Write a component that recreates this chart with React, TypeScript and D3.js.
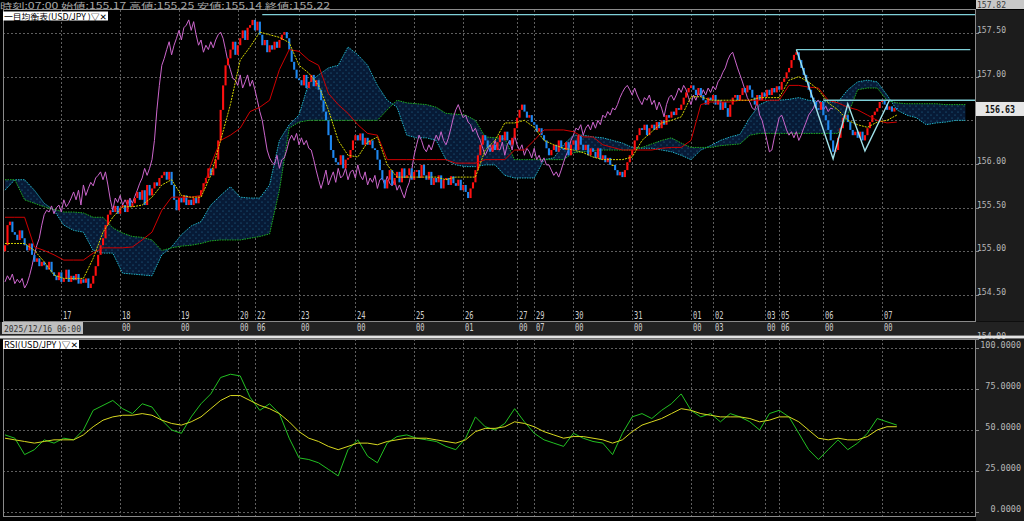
import React from 'react';
import * as d3 from 'd3';

const W = 1024;
const H = 521;
const BAR = 2.45; // px per hourly bar

// hourly closes USD/JPY 2025/12/16 -> 2026/01/07 07:00
const firstOpen = 155.0;
const closes = [
  155.07, 155.30, 155.34, 155.22, 155.19, 155.13, 155.24, 155.15, 155.07, 155.01, 155.09, 154.96,
  154.88, 154.92, 154.83, 154.88, 154.84, 154.79, 154.88, 154.76, 154.72, 154.67, 154.76, 154.65,
  154.69, 154.79, 154.65, 154.72, 154.67, 154.74, 154.63, 154.68, 154.64, 154.69, 154.58, 154.63,
  154.72, 154.83, 154.96, 155.07, 155.15, 155.30, 155.42, 155.47, 155.45, 155.52, 155.43, 155.50,
  155.53, 155.45, 155.59, 155.51, 155.55, 155.61, 155.68, 155.59, 155.70, 155.53, 155.76, 155.64,
  155.72, 155.79, 155.75, 155.84, 155.87, 155.91, 155.82, 155.91, 155.76, 155.59, 155.47, 155.61,
  155.56, 155.64, 155.53, 155.59, 155.53, 155.61, 155.55, 155.63, 155.70, 155.78, 155.84, 155.95,
  155.87, 155.95, 156.05, 156.27, 156.62, 156.90, 157.13, 157.21, 157.31, 157.40, 157.25, 157.36,
  157.44, 157.53, 157.42, 157.56, 157.59, 157.65, 157.53, 157.63, 157.48, 157.36, 157.42, 157.28,
  157.36, 157.31, 157.40, 157.33, 157.42, 157.48, 157.51, 157.44, 157.31, 157.17, 157.08, 156.98,
  156.96, 156.90, 157.02, 156.87, 156.94, 157.02, 156.89, 156.96, 156.85, 156.73, 156.60, 156.50,
  156.33, 156.16, 156.07, 156.02, 155.99, 156.10, 155.95, 156.05, 156.07, 156.16, 156.27, 156.33,
  156.27, 156.35, 156.22, 156.30, 156.22, 156.27, 156.18, 156.16, 156.05, 155.93, 155.82, 155.72,
  155.82, 155.93, 155.76, 155.84, 155.91, 155.79, 155.95, 155.84, 155.87, 155.95, 155.82, 155.91,
  155.93, 155.84, 155.99, 155.87, 155.82, 155.91, 155.76, 155.84, 155.79, 155.87, 155.72, 155.82,
  155.84, 155.76, 155.86, 155.78, 155.75, 155.82, 155.70, 155.76, 155.68, 155.61, 155.72, 155.79,
  155.93, 156.10, 156.22, 156.33, 156.27, 156.18, 156.14, 156.22, 156.16, 156.25, 156.33, 156.27,
  156.37, 156.27, 156.22, 156.30, 156.41, 156.53, 156.62, 156.68, 156.60, 156.53, 156.56, 156.48,
  156.45, 156.37, 156.41, 156.33, 156.27, 156.18, 156.10, 156.16, 156.22, 156.14, 156.27, 156.18,
  156.16, 156.25, 156.10, 156.22, 156.27, 156.16, 156.33, 156.22, 156.16, 156.22, 156.10, 156.18,
  156.14, 156.07, 156.18, 156.05, 156.10, 156.02, 156.07, 155.99, 155.99, 155.93, 155.87, 155.91,
  155.85, 155.93, 156.02, 156.10, 156.16, 156.27, 156.33, 156.41, 156.39, 156.45, 156.33, 156.41,
  156.45, 156.39, 156.48, 156.41, 156.50, 156.45, 156.56, 156.53, 156.60, 156.56, 156.64, 156.62,
  156.68, 156.76, 156.82, 156.87, 156.90, 156.85, 156.79, 156.87, 156.79, 156.73, 156.68, 156.76,
  156.73, 156.79, 156.68, 156.73, 156.62, 156.71, 156.64, 156.54, 156.68, 156.76, 156.79, 156.73,
  156.79, 156.87, 156.82, 156.90, 156.85, 156.76, 156.68, 156.79, 156.73, 156.82, 156.77, 156.85,
  156.79, 156.87, 156.82, 156.89, 156.85, 156.94, 156.98, 157.05, 157.10, 157.19, 157.25, 157.28,
  157.19, 157.10, 157.02, 156.94, 156.85, 156.76, 156.71, 156.64, 156.62, 156.71, 156.56, 156.50,
  156.39, 156.27, 156.14, 156.16, 156.30, 156.41, 156.53, 156.56, 156.48, 156.39, 156.33, 156.37,
  156.30, 156.37, 156.27, 156.33, 156.41, 156.48, 156.56, 156.60, 156.64, 156.71, 156.73, 156.68,
  156.62, 156.66, 156.60, 156.64, 156.63,
];

// ichimoku lines, one value every 4 bars
const tenkan = [
  155.09, 155.09, 155.09, 155.01, 154.88, 154.73, 154.69, 154.69, 154.69, 154.92,
  155.22, 155.39, 155.51, 155.51, 155.53, 155.62, 155.76, 155.82, 155.64, 155.62,
  155.62, 155.87, 156.27, 156.68, 157.19, 157.34, 157.51, 157.48, 157.45, 157.39,
  157.13, 157.04, 156.90, 156.62, 156.27, 156.10, 156.08, 156.25, 156.31, 155.99,
  155.85, 155.85, 155.85, 155.85, 155.85, 155.82, 155.85, 155.85, 155.85, 156.16,
  156.27, 156.47, 156.47, 156.50, 156.42, 156.27, 156.22, 156.18, 156.16, 156.13,
  156.08, 156.05, 156.05, 156.05, 156.08, 156.27, 156.37, 156.47, 156.50, 156.54,
  156.77, 156.77, 156.73, 156.73, 156.73, 156.73, 156.73, 156.76, 156.76, 156.76,
  156.96, 157.00, 156.94, 156.85, 156.70, 156.62, 156.50, 156.45, 156.42, 156.48,
  156.50, 156.56,
];
const kijun = [
  155.39, 155.39, 155.39, 155.05, 155.01, 154.96, 154.90, 154.90, 154.90, 154.98,
  155.04, 155.04, 155.04, 155.05, 155.13, 155.22, 155.47, 155.62, 155.62, 155.62,
  155.64, 155.99, 156.27, 156.33, 156.41, 156.60, 156.65, 156.73, 157.08, 157.31,
  157.29, 157.19, 157.13, 156.81, 156.68, 156.58, 156.45, 156.35, 156.33, 156.05,
  156.05, 156.05, 156.05, 156.05, 156.05, 156.05, 156.01, 156.01, 156.01, 156.05,
  156.05, 156.05, 156.16, 156.16, 156.27, 156.39, 156.39, 156.39, 156.37, 156.31,
  156.31, 156.22, 156.19, 156.16, 156.16, 156.16, 156.16, 156.18, 156.19, 156.19,
  156.27, 156.68, 156.71, 156.71, 156.71, 156.73, 156.73, 156.73, 156.73, 156.73,
  156.90, 156.90, 156.88, 156.87, 156.73, 156.70, 156.65, 156.62, 156.56, 156.50,
  156.47, 156.48,
];
const spanA = [
  155.70, 155.82, 155.82, 155.70, 155.55, 155.47, 155.30, 155.24, 155.22, 155.01,
  154.98, 154.98, 154.75, 154.74, 154.73, 154.72, 154.96, 155.05, 155.19, 155.29,
  155.34, 155.53, 155.64, 155.74, 155.62, 155.61, 155.61, 155.76, 156.27, 156.45,
  156.56, 156.93, 157.02, 157.10, 157.13, 157.34, 157.25, 157.13, 156.90, 156.73,
  156.65, 156.33, 156.30, 156.30, 156.27, 156.05, 155.99, 155.97, 155.97, 155.99,
  155.99, 155.87, 155.84, 155.84, 155.84, 156.05, 156.07, 156.22, 156.33, 156.33,
  156.31, 156.30, 156.27, 156.24, 156.19, 156.18, 156.18, 156.16, 156.14, 156.10,
  156.05, 156.16, 156.21, 156.27, 156.31, 156.34, 156.53, 156.68, 156.73, 156.73,
  156.74, 156.76, 156.73, 156.72, 156.71, 156.71, 156.85, 156.94, 156.96, 156.94,
  156.79, 156.62, 156.56, 156.53, 156.45, 156.47, 156.48, 156.50, 156.50,
];
const spanB = [
  155.82, 155.82, 155.59, 155.55, 155.51, 155.48, 155.45, 155.45, 155.44, 155.39,
  155.39, 155.27, 155.21, 155.17, 155.16, 155.13, 155.01, 155.04, 155.06, 155.07,
  155.09, 155.12, 155.13, 155.13, 155.13, 155.15, 155.17, 155.20, 155.70, 156.41,
  156.48, 156.50, 156.50, 156.50, 156.50, 156.50, 156.50, 156.50, 156.50, 156.62,
  156.73, 156.70, 156.69, 156.68, 156.65, 156.58, 156.57, 156.56, 156.50, 156.31,
  156.30, 156.29, 156.05, 156.05, 156.05, 156.05, 156.05, 156.05, 156.13, 156.14,
  156.15, 156.16, 156.16, 156.16, 156.16, 156.19, 156.23, 156.27, 156.30, 156.24,
  156.19, 156.19, 156.19, 156.21, 156.22, 156.23, 156.33, 156.35, 156.35, 156.35,
  156.35, 156.35, 156.35, 156.35, 156.35, 156.35, 156.56, 156.85, 156.87, 156.87,
  156.73, 156.70, 156.69, 156.69, 156.69, 156.69, 156.68, 156.68, 156.68,
];

// RSI and its signal, one value every 4 bars
const rsi = [
  47, 45, 35, 38, 44, 42, 45, 44, 50, 62, 65, 68, 63, 60, 66, 64, 56, 50, 48, 58,
  66, 72, 82, 84, 83, 70, 62, 66, 60, 45, 33, 32, 30, 26, 22, 38, 44, 34, 30, 42,
  46, 47, 45, 44, 43, 40, 38, 45, 58, 52, 50, 54, 63, 55, 48, 44, 42, 40, 48, 45,
  43, 42, 35, 48, 58, 60, 57, 62, 66, 72, 62, 58, 60, 55, 60, 58, 55, 50, 60, 62,
  58, 48, 38, 32, 38, 44, 38, 42, 48, 57, 55, 53,
];
const rsiSignal = [
  45, 44, 43, 42, 43, 44, 44, 44, 47, 52, 56, 58, 59, 59, 60, 59, 56, 54, 53, 55,
  58, 63, 68, 71, 71, 68, 65, 63, 60, 55, 49, 45, 43, 40, 38, 40, 42, 42, 41, 43,
  44, 45, 45, 45, 44, 43, 42, 44, 49, 51, 51, 52, 55, 54, 52, 49, 47, 45, 46, 46,
  45, 44, 42, 44, 49, 53, 55, 57, 60, 63, 62, 60, 59, 58, 58, 58, 57, 55, 56, 58,
  58, 55, 50, 45, 44, 45, 44, 44, 46, 50, 52, 52,
];

// time axis
const tickBars = [23, 47, 71, 95, 102, 120, 143, 167, 187, 209, 216, 232, 256, 280, 289, 310, 316, 334, 358];
const dayLabels = ['17', '18', '19', '20', '22', '23', '24', '25', '26', '27', '29', '30', '31', '01', '02', '03', '05', '06', '07'];
const hourLabels = ['', '00', '00', '00', '06', '00', '00', '00', '01', '00', '07', '00', '00', '00', '03', '00', '06', '00', '00'];

const priceTicks = [157.5, 157.0, 156.5, 156.0, 155.5, 155.0, 154.5, 154.0];
const rsiTicks = [100, 75, 50, 25, 0];

// horizontal lines and zigzag
const levelPrices = [157.71, 157.31, 156.73];
const levelFrom = [105, 323, 334];
const levelTo = [396, 394, 396];
const zigBars = [323, 338, 344, 351, 361];
const zigPrices = [157.31, 156.06, 156.69, 156.15, 156.73];

const lastPrice = 156.63;
const topPrice = '157.82';
const header = '時刻:07:00 始値:155.17 高値:155.25 安値:155.14 終値:155.22';

const L = 3;
const R = 975.5;
const MAIN_TOP = 10;
const MAIN_BOT = 321.5;
const RSI_TOP = 339;
const RSI_BOT = 516;

const MONO = '"DejaVu Sans Mono", monospace';
const JP = '"Noto Sans CJK JP", "DejaVu Sans", sans-serif';

const T: React.FC<{ x: number; y: number; s: string; len: number; size?: number; fill?: string; weight?: string; font?: string }> = ({ x, y, s, len, size = 10, fill = '#bdbdbd', weight = 'normal', font = MONO }) => (
  <text x={x} y={y} fontSize={size} fill={fill} fontWeight={weight} fontFamily={font} textLength={len} lengthAdjust="spacingAndGlyphs">{s}</text>
);

export default function App() {
  const x = d3.scaleLinear().domain([0, 364]).range([5, 5 + 364 * BAR]);
  const y = d3.scaleLinear().domain([154.5, 157.5]).range([295, 33]);
  const yr = d3.scaleLinear().domain([0, 100]).range([512, 348]);

  const pts = (arr: number[], step: number, sc: (v: number) => number): [number, number][] => arr.map((v, k) => [x(k * step), sc(v)]);
  const line = d3.line<[number, number]>().x(d => d[0]).y(d => d[1]);

  const cloud = d3.area<number>()
    .x((_, k) => x(k * 4))
    .y0(d => y(d))
    .y1((_, k) => y(spanB[k]))(spanA);

  const chikou = line(closes.slice(26).map((c, i) => [x(i), y(c)] as [number, number]));
  const zig = line(zigBars.map((b, k) => [x(b), y(zigPrices[k])] as [number, number]));

  const grid = '#5e5e5e';
  const lastY = y(lastPrice);

  return (
    <div style={{ position: 'absolute', left: 0, top: 0, width: W, height: H, background: '#000', overflow: 'hidden' }}>
      <svg width={W} height={H} style={{ display: 'block' }}>
        <defs>
          <pattern id="dots" width="6" height="6" patternUnits="userSpaceOnUse">
            <rect width="6" height="6" fill="#071a36" />
            <circle cx="1" cy="1" r="0.5" fill="#2c86b0" />
            <circle cx="4" cy="4" r="0.5" fill="#2c86b0" />
          </pattern>
          <clipPath id="mainClip"><rect x={L} y={MAIN_TOP} width={R - L} height={MAIN_BOT - MAIN_TOP} /></clipPath>
          <clipPath id="rsiClip"><rect x={L} y={RSI_TOP} width={R - L} height={RSI_BOT - RSI_TOP} /></clipPath>
        </defs>
        <rect width={W} height={H} fill="#000" />

        {/* right axis backgrounds */}
        <rect x={976} y={MAIN_TOP} width={48} height={MAIN_BOT - MAIN_TOP} fill="#1c1c1c" />
        <rect x={976} y={RSI_TOP} width={48} height={H - RSI_TOP} fill="#1c1c1c" />
        <rect x={0} y={MAIN_BOT + 0.5} width={W} height={13} fill="#222" />

        {/* grids */}
        {priceTicks.slice(0, 7).map(p => (
          <line key={p} x1={L} x2={R} y1={Math.round(y(p)) + 0.5} y2={Math.round(y(p)) + 0.5} stroke={grid} strokeDasharray="2,2" />
        ))}
        {rsiTicks.map(v => (
          <line key={v} x1={L} x2={R} y1={Math.round(yr(v)) + 0.5} y2={Math.round(yr(v)) + 0.5} stroke={grid} strokeDasharray="2,2" />
        ))}
        {tickBars.map(b => (
          <g key={b}>
            <line x1={Math.round(x(b)) + 0.5} x2={Math.round(x(b)) + 0.5} y1={MAIN_TOP} y2={MAIN_BOT} stroke={grid} strokeDasharray="2,2" />
            <line x1={Math.round(x(b)) + 0.5} x2={Math.round(x(b)) + 0.5} y1={RSI_TOP} y2={RSI_BOT} stroke={grid} strokeDasharray="2,2" />
          </g>
        ))}

        {/* main panel */}
        <g clipPath="url(#mainClip)">
          <path d={cloud ?? ''} fill="url(#dots)" />
          <path d={line(pts(spanA, 4, y)) ?? ''} fill="none" stroke="#22b4c8" strokeWidth={1} strokeDasharray="1.5,1" />
          <path d={line(pts(spanB, 4, y)) ?? ''} fill="none" stroke="#1fb01f" strokeWidth={1} strokeDasharray="1.5,1" />
          <path d={chikou ?? ''} fill="none" stroke="#cc66cc" strokeWidth={1} />
          {closes.map((c, i) => {
            const o = i === 0 ? firstOpen : closes[i - 1];
            const col = c > o ? '#ff1010' : c < o ? '#1e88f0' : '#e0e000';
            const top = y(Math.max(o, c));
            const h = Math.max(1, Math.abs(y(o) - y(c)));
            return <rect key={i} x={x(i) - 1} y={top} width={2.1} height={h} fill={col} />;
          })}
          <path d={line(pts(kijun, 4, y)) ?? ''} fill="none" stroke="#d00000" strokeWidth={1} />
          <path d={line(pts(tenkan, 4, y)) ?? ''} fill="none" stroke="#d6d600" strokeWidth={1} strokeDasharray="2,1" />
          {levelPrices.map((p, k) => (
            <line key={p} x1={x(levelFrom[k])} x2={x(levelTo[k])} y1={y(p)} y2={y(p)} stroke="#7fd0d8" strokeWidth={1.3} />
          ))}
          <path d={zig ?? ''} fill="none" stroke="#9fe0e8" strokeWidth={1.4} />
        </g>

        {/* rsi panel */}
        <g clipPath="url(#rsiClip)">
          <path d={line(pts(rsi, 4, yr)) ?? ''} fill="none" stroke="#22c022" strokeWidth={1} />
          <path d={line(pts(rsiSignal, 4, yr)) ?? ''} fill="none" stroke="#d8d820" strokeWidth={1} />
        </g>

        {/* borders */}
        <rect x={L + 0.5} y={MAIN_TOP - 0.5} width={R - L - 0.5} height={MAIN_BOT - MAIN_TOP + 0.5} fill="none" stroke="#8a8a8a" />
        <rect x={L + 0.5} y={RSI_TOP + 0.5} width={R - L - 0.5} height={RSI_BOT - RSI_TOP} fill="none" stroke="#8a8a8a" />

        {/* time labels */}
        {tickBars.map((b, k) => (
          <g key={'t' + b}>
            <T x={Math.round(x(b)) + 2} y={319} s={dayLabels[k]} len={8.5} size={10} fill="#cfcfcf" />
            {hourLabels[k] && <T x={Math.round(x(b)) + 2} y={331} s={hourLabels[k]} len={8.5} size={10} fill="#cfcfcf" />}
          </g>
        ))}
        <rect x={2} y={322} width={81} height={12} fill="#bfbfbf" />
        <T x={4} y={331.5} s="2025/12/16 06:00" len={77} size={9.5} fill="#333" />

        {/* price axis */}
        {priceTicks.filter(p => Math.abs(y(p) - lastY) > 14).map(p => (
          <g key={'p' + p}>
            <line x1={976} x2={979} y1={Math.round(y(p)) + 0.5} y2={Math.round(y(p)) + 0.5} stroke="#888" />
            <T x={977} y={Math.round(y(p)) - 0.5} s={p.toFixed(2)} len={29} size={9} fill="#b8b8b8" />
          </g>
        ))}
        <rect x={976} y={0} width={48} height={9} fill="#c8c8c8" />
        <T x={977} y={8} s={topPrice} len={29} size={9} fill="#3a3a3a" />
        <rect x={976} y={lastY - 7} width={48} height={14} fill="#e6e6e6" />
        <T x={985} y={lastY + 4} s={lastPrice.toFixed(2)} len={30} size={10} fill="#111" weight="bold" />

        {/* separator */}
        <rect x={0} y={335.5} width={W} height={3} fill="#e4e4e4" />

        {/* rsi axis */}
        {rsiTicks.map(v => {
          const s = v.toFixed(4);
          const len = s.length * 5.1;
          return (
            <g key={'r' + v}>
              <line x1={976} x2={979} y1={Math.round(yr(v)) + 0.5} y2={Math.round(yr(v)) + 0.5} stroke="#888" />
              <T x={1021 - len} y={Math.round(yr(v)) - 0.5} s={s} len={len} size={8.5} fill="#b8b8b8" />
            </g>
          );
        })}

        {/* header and panel titles */}
        <T x={0} y={9} s={header} len={330} size={8.5} fill="#a8a8a8" font={JP} />
        <rect x={3} y={11.5} width={105} height={9} fill="#fff" />
        <T x={4} y={19.5} s="一目均衡表(USD/JPY )▽✕" len={103} size={8.5} fill="#000" font={JP} />
        <rect x={3} y={340} width={76} height={9} fill="#fff" />
        <T x={4} y={348} s="RSI(USD/JPY )▽✕" len={74} size={8.5} fill="#000" font={JP} />
      </svg>
    </div>
  );
}
